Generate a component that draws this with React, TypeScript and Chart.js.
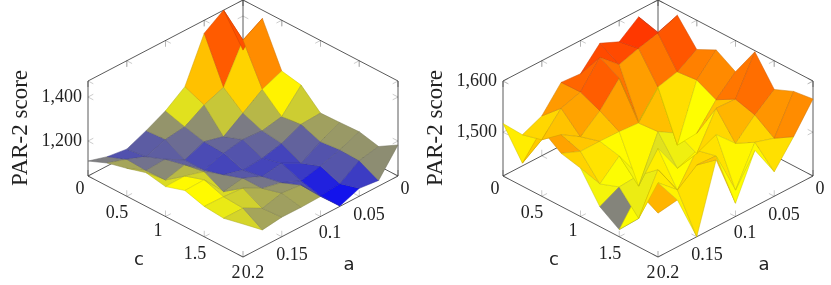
import React, { useEffect, useRef } from "react";
import { Chart, registerables } from "chart.js";

Chart.register(...registerables);

const aValues = [0, 0.025, 0.05, 0.075, 0.1, 0.125, 0.15, 0.175, 0.2];
const cValues = [0, 0.25, 0.5, 0.75, 1, 1.25, 1.5, 1.75, 2];
const aTicks = [0, 0.05, 0.1, 0.15, 0.2];
const cTicks = [0, 0.5, 1, 1.5, 2];
const leftZTicks = [1200, 1400];
const rightZTicks = [1500, 1600];

// rows: c index, columns: a index
const leftScores = [
  [1245, 1473, 1414, 1217, 1153, 1109, 1071, 1083, 1109],
  [1435, 1383, 1214, 1180, 1127, 1115, 1083, 1117, 1146],
  [1242, 1205, 1143, 1082, 1105, 1068, 1117, 1112, 1168],
  [1224, 1127, 1109, 1115, 1099, 1068, 1138, 1115, 1194],
  [1143, 1138, 1097, 1076, 1068, 1093, 1153, 1179, 1177],
  [1146, 1105, 1053, 1099, 1085, 1123, 1108, 1208, 1205],
  [1150, 1114, 1086, 1065, 1103, 1123, 1170, 1177, 1179],
  [1129, 1111, 1052, 1043, 1138, 1147, 1124, 1171, 1171],
  [1182, 1067, 1077, 1043, 1132, 1129, 1130, 1118, 1191],
];
const rightScores = [
  [1537, 1587, 1558, 1575, 1535, 1538, 1492, 1475, 1517],
  [1590, 1575, 1565, 1553, 1587, 1539, 1527, 1485, 1459],
  [1543, 1519, 1509, 1461, 1566, 1522, 1491, 1515, 1545],
  [1562, 1523, 1415, 1548, 1498, 1501, 1502, 1502, 1518],
  [1539, 1504, 1458, 1478, 1501, 1414, 1493, 1458, 1509],
  [1598, 1525, 1527, 1458, 1449, 1508, 1475, 1472, 1453],
  [1544, 1514, 1478, 1515, 1504, 1446, 1506, 1430, 1428],
  [1560, 1488, 1500, 1426, 1513, 1515, 1486, 1520, 1521],
  [1565, 1511, 1462, 1524, 1440, 1545, 1414, 1506, 1500],
];

const BACK_X = 243;
const BACK_Y = 95;
const HALF_W = 155;
const HALF_H = 81;
const BOX_H = 95;
const TICK_LEN = 6;
const SERIF = '"Liberation Serif", serif';
const MONO = '"DejaVu Sans", sans-serif';

type Panel = {
  scores: number[][];
  zFloor: number;
  pxPerUnit: number;
  zTicks: number[];
  width: number;
};

const leftPanel: Panel = { scores: leftScores, zFloor: 1041, pxPerUnit: 0.22, zTicks: leftZTicks, width: 415 };
const rightPanel: Panel = { scores: rightScores, zFloor: 1414, pxPerUnit: 0.51, zTicks: rightZTicks, width: 416 };

const STOPS = [
  [0, 0, 255],
  [255, 255, 0],
  [255, 128, 0],
  [255, 0, 0],
];
function hot(t: number, k = 1) {
  const p = Math.max(0, Math.min(0.9999, t)) * 3;
  const n = Math.floor(p);
  const f = p - n;
  const c = STOPS[n].map((v, m) => (v + (STOPS[n + 1][m] - v) * f) * k);
  return `rgb(${c[0].toFixed(0)},${c[1].toFixed(0)},${c[2].toFixed(0)})`;
}

function buildDatasets(p: Panel) {
  const zTop = p.zFloor + BOX_H / p.pxPerUnit;
  const pt = (a: number, c: number, z: number) => ({
    x: BACK_X + HALF_W * (c / 2 - a / 0.2),
    y: BACK_Y + HALF_H * (c / 2 + a / 0.2) - (z - p.zFloor) * p.pxPerUnit,
  });
  const out: any[] = [];
  const line = (data: any[], color: string, width: number) =>
    out.push({ data, showLine: true, borderColor: color, borderWidth: width, pointRadius: 0, fill: false, tension: 0, clip: false });

  const dirs: Record<string, [number, number]> = {
    pc: [0.886, 0.463],
    mc: [-0.886, -0.463],
    pa: [-0.886, 0.463],
    ma: [0.886, -0.463],
    up: [0, -1],
    dn: [0, 1],
  };
  const tick = (o: { x: number; y: number }, d1: string, d2: string) => {
    for (const d of [d1, d2]) {
      const [dx, dy] = dirs[d];
      line([o, { x: o.x + dx * TICK_LEN, y: o.y + dy * TICK_LEN }], "#b4b4b4", 0.7);
    }
  };
  for (const a of aTicks) {
    tick(pt(a, 0, zTop), "pc", "dn");
    tick(pt(a, 0, p.zFloor), "pc", "up");
    tick(pt(a, 2, p.zFloor), "mc", "up");
  }
  for (const c of cTicks) {
    tick(pt(0, c, zTop), "pa", "dn");
    tick(pt(0, c, p.zFloor), "pa", "up");
    tick(pt(0.2, c, p.zFloor), "ma", "up");
  }
  for (const z of p.zTicks) {
    tick(pt(0.2, 0, z), "ma", "pc");
    tick(pt(0, 2, z), "mc", "pa");
    tick(pt(0, 0, z), "pc", "pa");
  }

  const axis = "#303030";
  line([pt(0.2, 0, zTop), pt(0, 0, zTop), pt(0, 2, zTop)], axis, 0.8);
  line([pt(0.2, 0, p.zFloor), pt(0.2, 2, p.zFloor), pt(0, 2, p.zFloor)], axis, 0.8);
  line([pt(0.2, 0, p.zFloor), pt(0, 0, p.zFloor), pt(0, 2, p.zFloor)], axis, 0.8);
  line([pt(0.2, 0, p.zFloor), pt(0.2, 0, zTop)], axis, 0.8);
  line([pt(0, 2, p.zFloor), pt(0, 2, zTop)], axis, 0.8);
  line([pt(0, 0, p.zFloor), pt(0, 0, zTop)], axis, 0.8);

  const flat = p.scores.flat();
  const lo = Math.min(...flat);
  const hi = Math.max(...flat);
  for (let j = aValues.length - 2; j >= 0; j--) {
    for (let i = 0; i < cValues.length - 1; i++) {
      const s = p.scores;
      const mean = (s[i][j] + s[i][j + 1] + s[i + 1][j] + s[i + 1][j + 1]) / 4;
      const t = (mean - lo) / (hi - lo);
      const poly = [
        pt(aValues[j], cValues[i], s[i][j]),
        pt(aValues[j + 1], cValues[i], s[i][j + 1]),
        pt(aValues[j + 1], cValues[i + 1], s[i + 1][j + 1]),
        pt(aValues[j], cValues[i + 1], s[i + 1][j]),
      ];
      out.push({
        data: [...poly, poly[0]],
        showLine: true,
        fill: "shape",
        backgroundColor: hot(t),
        borderColor: hot(t, 0.8),
        borderWidth: 0.5,
        pointRadius: 0,
        tension: 0,
        clip: false,
      });
    }
  }
  return out.reverse();
}

const cLabelPos = [[80, 189], [117, 213], [158, 231], [195, 254], [236, 273]];
const aLabelPos = [[405, 189], [369, 215], [330, 233], [292, 255], [253, 273]];

function fmt(v: number) {
  return v >= 1000 ? `${Math.floor(v / 1000)},${String(v % 1000).padStart(3, "0")}` : String(v);
}

function labelsPlugin(p: Panel) {
  return {
    id: "labels3d",
    afterDraw(chart: any) {
      const ctx = chart.ctx;
      ctx.save();
      ctx.fillStyle = "#222";
      ctx.textBaseline = "middle";
      ctx.textAlign = "center";
      ctx.font = `18px ${SERIF}`;
      cTicks.forEach((v, k) => ctx.fillText(String(v), cLabelPos[k][0], cLabelPos[k][1]));
      aTicks.forEach((v, k) => ctx.fillText(String(v), aLabelPos[k][0], aLabelPos[k][1]));
      ctx.textAlign = "right";
      for (const z of p.zTicks) {
        const y = BACK_Y + HALF_H - (z - p.zFloor) * p.pxPerUnit;
        ctx.fillText(fmt(z), 82, y);
      }
      ctx.textAlign = "center";
      ctx.font = `18px ${MONO}`;
      ctx.fillText("c", 139, 260);
      ctx.fillText("a", 349, 265);
      ctx.translate(21, 128);
      ctx.rotate(-Math.PI / 2);
      ctx.font = `23px ${SERIF}`;
      ctx.fillText("PAR-2 score", 0, 0);
      ctx.restore();
    },
  };
}

function Surface({ panel, left }: { panel: Panel; left: number }) {
  const ref = useRef<HTMLCanvasElement>(null);
  useEffect(() => {
    const chart = new Chart(ref.current as HTMLCanvasElement, {
      type: "scatter",
      data: { datasets: buildDatasets(panel) },
      options: {
        animation: false,
        responsive: false,
        maintainAspectRatio: false,
        layout: { padding: 0 },
        events: [],
        plugins: { legend: { display: false }, tooltip: { enabled: false }, title: { display: false } },
        scales: {
          x: { type: "linear", display: false, min: 0, max: panel.width },
          y: { type: "linear", display: false, reverse: true, min: 0, max: 285 },
        },
      },
      plugins: [labelsPlugin(panel)],
    } as any);
    return () => chart.destroy();
  }, [panel]);
  return (
    <canvas
      ref={ref}
      width={panel.width}
      height={285}
      style={{ position: "absolute", left, top: 0, width: panel.width, height: 285, display: "block" }}
    />
  );
}

export default function App() {
  return (
    <div style={{ position: "absolute", left: 0, top: 0, width: 831, height: 285, background: "#fff" }}>
      <Surface panel={leftPanel} left={0} />
      <Surface panel={rightPanel} left={415} />
    </div>
  );
}
